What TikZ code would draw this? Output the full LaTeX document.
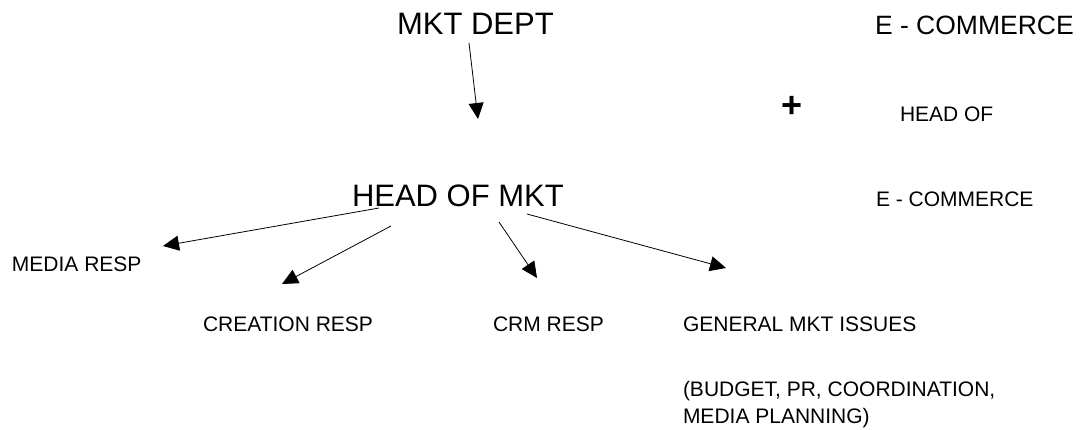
\documentclass[tikz,border=0pt]{standalone}
\usepackage{fontspec}
\setmainfont{Liberation Sans}
\usetikzlibrary{arrows.meta}
\tikzset{
  lbl/.style={inner sep=0pt, outer sep=0pt, anchor=base west, text=black},
  big/.style={lbl, font=\fontsize{31}{37}\selectfont},
  mid/.style={lbl, font=\fontsize{26.5}{32}\selectfont},
  small/.style={lbl, font=\fontsize{21}{27}\selectfont},
  link/.style={line width=0.8pt, -{Triangle[length=16pt,width=15pt]}},
}
\begin{document}
\begin{tikzpicture}[x=1pt, y=-1pt]
  \useasboundingbox (0,0) rectangle (1080,430);

  % titles
  \node[big] (dept) at (397,35) {MKT DEPT};
  \node[big] (head) at (352,207) {HEAD OF MKT};

  % e-commerce side
  \node[mid] (ecom) at (875,35) {E - COMMERCE};
  \node[inner sep=0pt, font=\fontsize{36}{40}\selectfont\bfseries] (plus) at (792,107) {+};
  \node[small] (headof) at (900,122) {HEAD OF};
  \node[small] (ecom2) at (876,207) {E - COMMERCE};

  % responsibilities
  \node[small] (media) at (12,272) {MEDIA RESP};
  \node[small] (creation) at (203,332) {CREATION RESP};
  \node[small] (crm) at (493,332) {CRM RESP};
  \node[small] (general) at (683,332) {GENERAL MKT ISSUES};
  \node[small] (budget) at (683,397) {(BUDGET, PR, COORDINATION,};
  \node[small] (planning) at (683,424) {MEDIA PLANNING)};

  % arrow end points
  \coordinate (d1) at (469,43);   \coordinate (d2) at (478,119);
  \coordinate (a1) at (379,208);  \coordinate (a2) at (163,246);
  \coordinate (b1) at (391,226);  \coordinate (b2) at (282,284);
  \coordinate (c1) at (499,222);  \coordinate (c2) at (537,278);
  \coordinate (e1) at (527,214);  \coordinate (e2) at (726,268);

  \draw[link] (d1) -- (d2);
  \draw[link] (a1) -- (a2);
  \draw[link] (b1) -- (b2);
  \draw[link] (c1) -- (c2);
  \draw[link] (e1) -- (e2);
\end{tikzpicture}
\end{document}
